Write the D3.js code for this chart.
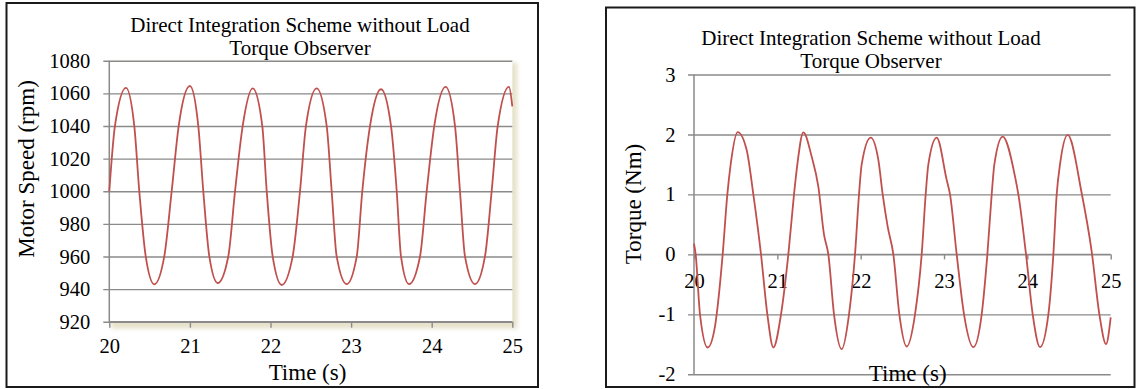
<!DOCTYPE html>
<html>
<head>
<meta charset="utf-8">
<script src="https://cdn.jsdelivr.net/npm/d3@7"></script>
<style>
  html, body { margin: 0; padding: 0; background: #ffffff; }
  svg { display: block; }
  text { font-family: "Liberation Serif", "Times New Roman", serif; fill: #000; }
</style>
</head>
<body>
<svg id="chart" width="1136" height="389"></svg>
<script>
// ---- Motor speed response (rpm) over 20–25 s ----
const speedTime = [
  20.00, 20.07, 20.207, 20.31, 20.372, 20.452, 20.558, 20.682, 20.774, 20.861,
  21.00, 21.104, 21.166, 21.241, 21.345, 21.476, 21.56, 21.655, 21.779, 21.898,
  21.953, 22.027, 22.139, 22.275, 22.366, 22.44, 22.573, 22.697, 22.759, 22.821,
  22.945, 23.07, 23.139, 23.235, 23.371, 23.495, 23.566, 23.619, 23.718, 23.855,
  23.938, 24.032, 24.173, 24.289, 24.351, 24.413, 24.537, 24.661, 24.744, 24.819,
  24.959, 25.00
];
const speedRpm = [
  1000, 1040, 1063.4, 1040, 1000, 960, 942.9, 960, 1000, 1040,
  1064.5, 1040, 1000, 960, 943.7, 960, 1000, 1040, 1063, 1040,
  1000, 960, 942.5, 960, 1000, 1040, 1063, 1040, 1000, 960,
  943, 960, 1000, 1040, 1062.5, 1040, 1000, 960, 943, 960,
  1000, 1040, 1063.9, 1040, 1000, 960, 943, 960, 1000, 1040,
  1064, 1052
];

// ---- Electromagnetic torque (Nm) over 20–25 s ----
const torqueTime = [
  20.00, 20.02, 20.072, 20.164, 20.252, 20.272, 20.344, 20.40, 20.44, 20.524,
  20.632, 20.712, 20.804, 20.88, 20.952, 21.044, 21.132, 21.20, 21.24, 21.312,
  21.412, 21.492, 21.56, 21.612, 21.68, 21.772, 21.86, 21.932, 21.98, 22.012,
  22.12, 22.212, 22.264, 22.324, 22.392, 22.464, 22.552, 22.652, 22.732, 22.78,
  22.812, 22.912, 23.032, 23.072, 23.152, 23.24, 23.352, 23.452, 23.52, 23.572,
  23.604, 23.704, 23.852, 23.892, 23.984, 24.064, 24.152, 24.252, 24.312, 24.352,
  24.392, 24.484, 24.652, 24.772, 24.864, 24.944, 25.00
];
const torqueNm = [
  0.18, 0, -1, -1.553, -1.2, -1, 0, 1, 1.5, 2.04,
  1.74, 1, 0, -1, -1.553, -1, 0, 1, 1.5, 2.036,
  1.63, 1.13, 0.33, 0, -1, -1.58, -1, 0, 1, 1.5,
  1.947, 1.575, 1, 0.463, 0, -1, -1.536, -1, 0, 1,
  1.5, 1.947, 1.242, 1, 0, -1, -1.547, -1, 0, 1,
  1.5, 1.963, 1.297, 1, 0, -1, -1.547, -1, 0, 1,
  1.5, 1.992, 1.02, 0.047, -1, -1.497, -1.05
];

// ---- Axis ticks and labels ----
const timeTicks = [20, 21, 22, 23, 24, 25];
const speedTicks = [920, 940, 960, 980, 1000, 1020, 1040, 1060, 1080];
const torqueTicks = [-2, -1, 0, 1, 2, 3];
const titleLines = ["Direct Integration Scheme without Load", "Torque Observer"];
const speedLabel = "Motor Speed (rpm)";
const torqueLabel = "Torque (Nm)";
const timeLabel = "Time (s)";

const svg = d3.select("#chart");
const GRID = "#8a8a8a";
const LINE = "#c0504d";
const TICK_FS = 20.5, TITLE_FS = 21, AXIS_FS = 23;
const plain = d => String(d);   // hyphen-minus, no thousands separator

const defs = svg.append("defs");
defs.append("filter").attr("id", "plotShadow")
  .attr("x", "-10%").attr("y", "-10%").attr("width", "120%").attr("height", "120%")
  .append("feGaussianBlur").attr("stdDeviation", 2);

function drawPanel(p) {
  const g = svg.append("g");

  // outer frame
  g.append("rect")
    .attr("x", p.frame[0]).attr("y", p.frame[1])
    .attr("width", p.frame[2] - p.frame[0]).attr("height", p.frame[3] - p.frame[1])
    .attr("fill", "#fff").attr("stroke", "#1a1a1a").attr("stroke-width", 2);

  const x = d3.scaleLinear().domain([20, 25]).range([p.x0, p.x1]);
  const y = d3.scaleLinear().domain(p.yDomain).range([p.y1, p.y0]);

  if (p.shadow) {
    g.append("rect")
      .attr("x", p.x0 + 2).attr("y", p.y0 + 2)
      .attr("width", p.x1 - p.x0 + 3).attr("height", p.y1 - p.y0 + 5)
      .attr("fill", "#e6e2cb").attr("filter", "url(#plotShadow)");
    g.append("rect")
      .attr("x", p.x0).attr("y", p.y0)
      .attr("width", p.x1 - p.x0).attr("height", p.y1 - p.y0)
      .attr("fill", "#fff");
  }

  // horizontal gridlines + left ticks + value labels
  const yAxis = g.append("g")
    .attr("transform", `translate(${p.x0 - 6},0)`)
    .call(d3.axisLeft(y).tickValues(p.yTicks).tickSize(-(p.x1 - p.x0 + 6))
      .tickPadding(p.yPad).tickFormat(plain));
  yAxis.select(".domain").remove();
  yAxis.selectAll(".tick line").attr("stroke", GRID).attr("stroke-width", 1.4);
  yAxis.selectAll(".tick text")
    .attr("font-family", "Liberation Serif, Times New Roman, serif")
    .attr("font-size", TICK_FS).attr("fill", "#000");

  // vertical value axis
  g.append("line")
    .attr("x1", p.x0).attr("x2", p.x0).attr("y1", p.y0).attr("y2", p.y1)
    .attr("stroke", GRID).attr("stroke-width", 1.5);

  // time axis with downward ticks
  const xAxis = g.append("g")
    .attr("transform", `translate(0,${y(p.xAxisAt)})`)
    .call(d3.axisBottom(x).tickValues(timeTicks).tickSize(p.xTick)
      .tickPadding(p.xPad).tickFormat(plain));
  xAxis.select(".domain").remove();
  xAxis.selectAll(".tick line").attr("stroke", GRID).attr("stroke-width", 1.4);
  xAxis.selectAll(".tick text")
    .attr("font-family", "Liberation Serif, Times New Roman, serif")
    .attr("font-size", TICK_FS).attr("fill", "#000");
  g.append("line")
    .attr("x1", p.x0).attr("x2", p.x1).attr("y1", y(p.xAxisAt)).attr("y2", y(p.xAxisAt))
    .attr("stroke", GRID).attr("stroke-width", 1.4);

  // data curve
  const pts = p.t.map((t, i) => [t, p.v[i]]);
  g.append("path")
    .datum(pts)
    .attr("fill", "none").attr("stroke", LINE).attr("stroke-width", 1.8)
    .attr("stroke-linejoin", "round")
    .attr("d", d3.line().x(d => x(d[0])).y(d => y(d[1])).curve(d3.curveMonotoneX));

  // titles
  g.selectAll("text.title").data(titleLines).enter().append("text")
    .attr("class", "title")
    .attr("x", p.titleX).attr("y", (d, i) => p.titleY + i * 23.3)
    .attr("text-anchor", "middle").attr("font-size", TITLE_FS).text(d => d);

  g.append("text")
    .attr("x", p.xLabelX).attr("y", p.xLabelY)
    .attr("text-anchor", "middle").attr("font-size", AXIS_FS).text(timeLabel);

  g.append("text")
    .attr("transform", `translate(${p.yLabelX},${p.yLabelY}) rotate(-90)`)
    .attr("text-anchor", "middle").attr("font-size", AXIS_FS).text(p.yLabel);
}

drawPanel({
  frame: [6.5, 3, 538, 387],
  x0: 109.3, x1: 512.3, y0: 60.7, y1: 321.7,
  yDomain: [920, 1080], yTicks: speedTicks, yPad: 13,
  xAxisAt: 920, xTick: 6, xPad: 11,
  t: speedTime, v: speedRpm, shadow: true,
  titleX: 300, titleY: 31.7,
  xLabelX: 307.5, xLabelY: 379.5,
  yLabelX: 33.5, yLabelY: 169, yLabel: speedLabel
});

drawPanel({
  frame: [606, 7.5, 1134.5, 387],
  x0: 694, x1: 1110.7, y0: 74.5, y1: 374.3,
  yDomain: [-2, 3], yTicks: torqueTicks, yPad: 12.5,
  xAxisAt: 0, xTick: 5, xPad: 13.6,
  t: torqueTime, v: torqueNm, shadow: false,
  titleX: 871, titleY: 45,
  xLabelX: 907.7, xLabelY: 381,
  yLabelX: 641, yLabelY: 204, yLabel: torqueLabel
});
</script>
</body>
</html>
